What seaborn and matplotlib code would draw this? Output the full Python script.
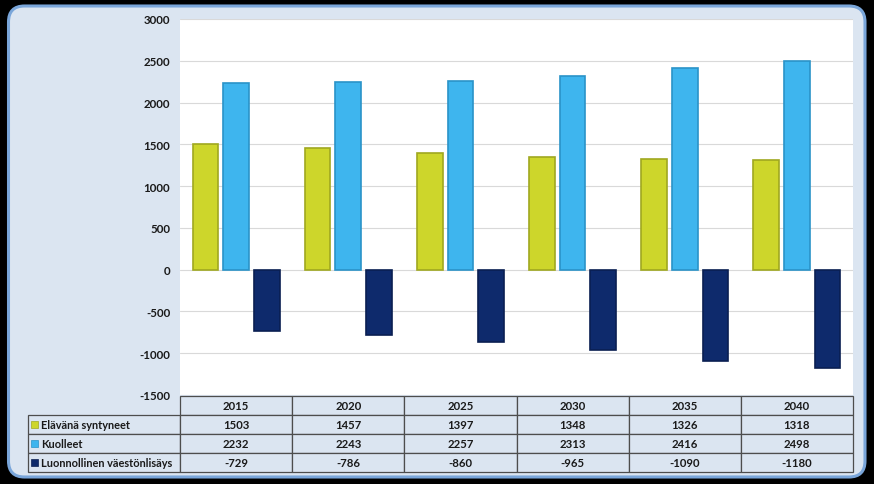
import matplotlib
matplotlib.use("Agg")
import matplotlib.pyplot as plt
import seaborn as sns
import pandas as pd
import numpy as np
from matplotlib.patches import FancyBboxPatch, Rectangle

years = ["2015", "2020", "2025", "2030", "2035", "2040"]
series_names = ["Elävänä syntyneet", "Kuolleet", "Luonnollinen väestönlisäys"]
born = [1503, 1457, 1397, 1348, 1326, 1318]
dead = [2232, 2243, 2257, 2313, 2416, 2498]
natural = [-729, -786, -860, -965, -1090, -1180]
yticks = [-1500, -1000, -500, 0, 500, 1000, 1500, 2000, 2500, 3000]

colors = ["#cdd62b", "#3eb5ee", "#0e2a6c"]
edge_colors = ["#a0a820", "#2a93c8", "#0a1f52"]

sns.set_style("white")
plt.rcParams["font.family"] = ["Lato", "DejaVu Sans"]
plt.rcParams["font.weight"] = "bold"

values = [born, dead, natural]
df = pd.DataFrame({
    "year": years * 3,
    "series": sum([[s] * len(years) for s in series_names], []),
    "value": born + dead + natural,
})

W, H = 874, 485
fig = plt.figure(figsize=(W / 100, H / 100), dpi=100, facecolor="black")

# rounded frame
frame = FancyBboxPatch((0.085, 0.07), 8.565, 4.71,
                       boxstyle="round,pad=0,rounding_size=0.16",
                       transform=fig.dpi_scale_trans, facecolor="#dbe5f1",
                       edgecolor="#7aa6da", linewidth=2.2, zorder=0)
fig.add_artist(frame)

ax_l, ax_r, ax_t, ax_b = 180, 853, 20, 396
ax = fig.add_axes([ax_l / W, 1 - ax_b / H, (ax_r - ax_l) / W, (ax_b - ax_t) / H])
ax.set_facecolor("white")

sns.barplot(data=df, x="year", y="value", hue="series", hue_order=series_names,
            order=years, palette=colors, saturation=1, width=0.82, gap=0.16,
            ax=ax, legend=False, zorder=3)

for container, ec in zip(ax.containers, edge_colors):
    for p in container:
        p.set_edgecolor(ec)
        p.set_linewidth(1.2)

ax.set_ylim(-1500, 3000)
ax.set_xlim(-0.5, 5.5)
ax.set_yticks(yticks)
ax.set_yticklabels([str(t) for t in yticks], fontsize=8.3, fontweight="bold", color="#1a1a1a")
ax.tick_params(axis="y", length=0, pad=7)
ax.set_xticks([])
ax.set_xlabel("")
ax.set_ylabel("")
for s in ax.spines.values():
    s.set_visible(False)
ax.yaxis.grid(True, color="#d9d9d9", linewidth=0.8, zorder=0)
ax.set_axisbelow(True)

# data table drawn below axes (in axes coordinates)
ax_w = ax_r - ax_l
ax_h = ax_b - ax_t
row_h = 19.0 / ax_h
lbl_left = (28 - ax_l) / ax_w
top = 0.0 - 1.0 / ax_h
border = "#4d4d4d"
fs = 8.2

def cell(x0, y0, w, h):
    r = Rectangle((x0, y0), w, h, transform=ax.transAxes, facecolor="#dbe5f1",
                  edgecolor=border, linewidth=0.9, clip_on=False, zorder=5)
    ax.add_patch(r)

ncol = len(years)
cw = 1.0 / ncol
for i, yv in enumerate(years):
    y0 = top - row_h
    cell(i * cw, y0, cw, row_h)
    ax.text((i + 0.5) * cw, y0 + row_h / 2, yv, transform=ax.transAxes,
            ha="center", va="center", fontsize=fs, fontweight="bold",
            color="#1a1a1a", clip_on=False, zorder=6)

for r, (name, vals) in enumerate(zip(series_names, values)):
    y0 = top - row_h * (r + 2)
    cell(lbl_left, y0, -lbl_left, row_h)
    sq_w = 7.0 / ax_w
    sq_h = 7.0 / ax_h
    ax.add_patch(Rectangle((lbl_left + 3.0 / ax_w, y0 + row_h / 2 - sq_h / 2), sq_w, sq_h,
                           transform=ax.transAxes, facecolor=colors[r],
                           edgecolor=edge_colors[r], linewidth=0.5,
                           clip_on=False, zorder=6))
    ax.text(lbl_left + 13.0 / ax_w, y0 + row_h / 2, name, transform=ax.transAxes,
            ha="left", va="center", fontsize=7.9, fontweight="bold",
            color="#1a1a1a", clip_on=False, zorder=6)
    for i, v in enumerate(vals):
        cell(i * cw, y0, cw, row_h)
        ax.text((i + 0.5) * cw, y0 + row_h / 2, str(v), transform=ax.transAxes,
                ha="center", va="center", fontsize=fs, fontweight="bold",
                color="#1a1a1a", clip_on=False, zorder=6)

fig.savefig("out.png", dpi=100, facecolor=fig.get_facecolor())
